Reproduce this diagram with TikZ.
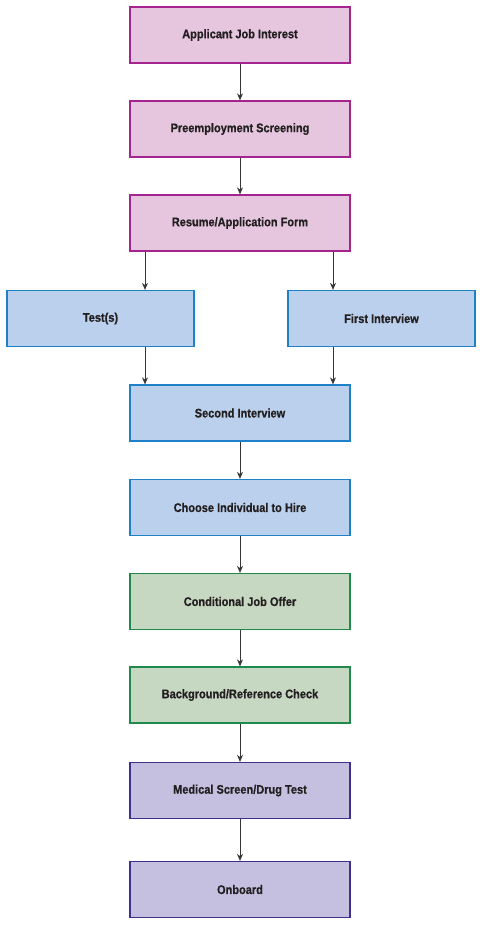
\documentclass[tikz,border=0pt]{standalone}
\usepackage{fontspec}
\setmainfont{Liberation Sans}[FakeStretch=0.88,BoldFeatures={FakeBold=0.6}]
\usetikzlibrary{arrows.meta}
\definecolor{pinkF}{HTML}{E6C6DF}\definecolor{pinkD}{HTML}{A5248F}
\definecolor{blueF}{HTML}{BBD0EC}\definecolor{blueD}{HTML}{1E80C6}
\definecolor{greenF}{HTML}{C6D7C2}\definecolor{greenD}{HTML}{1F8A4B}
\definecolor{purpF}{HTML}{C5C0E0}\definecolor{purpD}{HTML}{3F2F8F}
\definecolor{txt}{HTML}{231F20}
\begin{document}
\begin{tikzpicture}[x=1pt,y=-1pt,
  box/.style={draw,line width=1.3pt,minimum height=56pt,inner sep=0pt,font=\bfseries\fontsize{12.5}{14}\selectfont,text=txt},
  wide/.style={box,minimum width=220pt},
  side/.style={box,minimum width=187pt},
  pk/.style={fill=pinkF,draw=pinkD},
  bl/.style={fill=blueF,draw=blueD},
  gr/.style={fill=greenF,draw=greenD},
  pu/.style={fill=purpF,draw=purpD},
  arr/.style={draw=txt!90,line width=0.8pt,-{Stealth[length=7pt,width=6pt]}}]
\useasboundingbox (0,0) rectangle (482,925);
\node[wide,pk] (a) at (240,35) {Applicant Job Interest};
\node[wide,pk] (b) at (240,129) {Preemployment Screening};
\node[wide,pk] (c) at (240,223) {Resume/Application Form};
\node[side,bl] (t) at (100.5,318.5) {Test(s)};
\node[side,bl] (f) at (381.5,318.5) {First Interview};
\node[wide,bl] (s) at (240,413) {Second Interview};
\node[wide,bl] (h) at (240,507.5) {Choose Individual to Hire};
\node[wide,gr] (o) at (240,601.5) {Conditional Job Offer};
\node[wide,gr] (g) at (240,695) {Background/Reference Check};
\node[wide,pu] (m) at (240,790.5) {Medical Screen/Drug Test};
\node[wide,pu] (n) at (240,889.5) {Onboard};
\draw[arr] (a) -- (b);
\draw[arr] (b) -- (c);
\draw[arr] (c.south -| 145,0) -- (t.north -| 145,0);
\draw[arr] (c.south -| 333,0) -- (f.north -| 333,0);
\draw[arr] (t.south -| 145,0) -- (s.north -| 145,0);
\draw[arr] (f.south -| 333,0) -- (s.north -| 333,0);
\draw[arr] (s) -- (h);
\draw[arr] (h) -- (o);
\draw[arr] (o) -- (g);
\draw[arr] (g) -- (m);
\draw[arr] (m) -- (n);
\end{tikzpicture}
\end{document}
